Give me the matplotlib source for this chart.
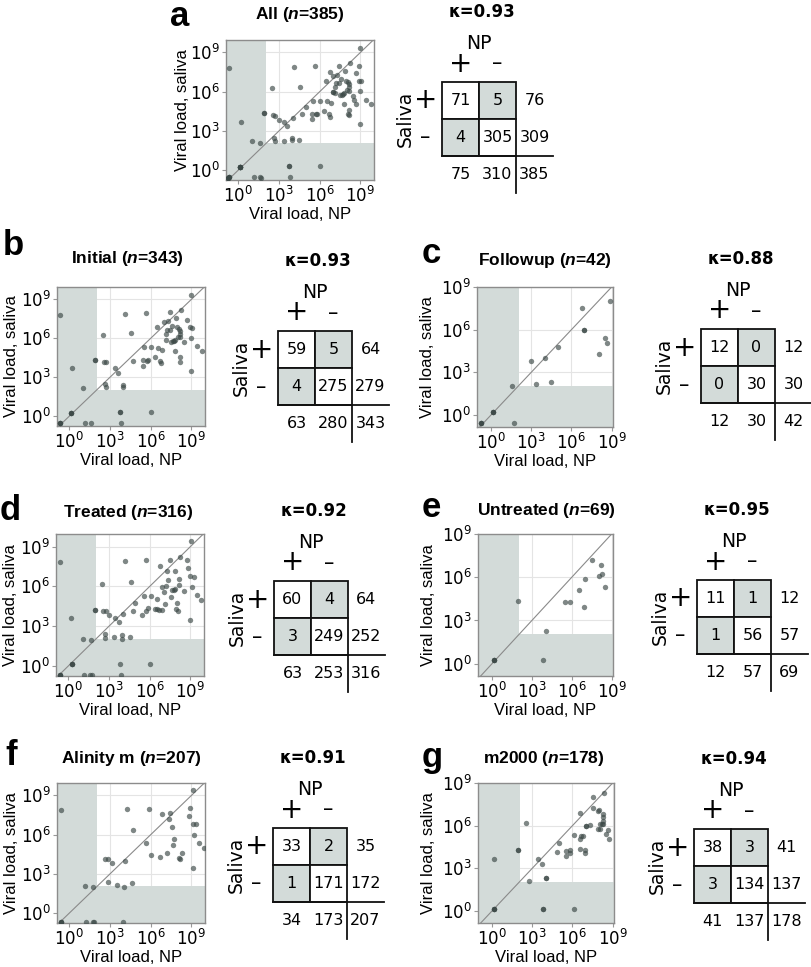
import numpy as np
import matplotlib
matplotlib.use('Agg')
import matplotlib.pyplot as plt
from matplotlib.patches import Rectangle
from matplotlib.ticker import FixedLocator, NullLocator, LogFormatterSciNotation

plt.rcParams['mathtext.fontset'] = 'custom'
plt.rcParams['mathtext.rm'] = 'DejaVu Sans'
plt.rcParams['mathtext.it'] = 'Liberation Sans:italic:bold'
plt.rcParams['mathtext.bf'] = 'DejaVu Sans:bold'

# log10 viral loads (NP on x, saliva on y)
initial_np = [-0.69, 0.2, 1.0, 1.9, 1.9, 2.46, 2.54, 2.7, 2.66, 2.7, 3.35, 3.6, 3.94, 3.94, 4.14, 4.58,
              4.73, 5.47, 5.47, 5.52, 5.67, 5.74, 5.8, 6.0, 6.35, 6.45, 6.55, 6.65, 6.75, 6.8, 6.95,
              7.1, 7.14, 7.2, 7.3, 7.39, 7.44, 7.5, 7.59, 7.64, 7.73, 7.76, 7.8, 7.88, 7.96, 8.0,
              8.08, 8.13, 8.15, 8.15, 8.18, 8.13, 8.23, 8.45, 8.67, 8.87, 8.94, 9.0, 9.06, 9.0,
              9.4, 9.8, 6.0, 3.77, 3.77, 0.15, 0.15, 0.15, -0.69, -0.69, -0.69, 1.13, 1.58, 3.84]
initial_saliva = [7.8, 3.7, 2.2, 4.36, 4.36, 6.26, 4.2, 4.15, 2.49, 2.23, 3.69, 3.36, 2.44, 2.28, 7.87, 6.38,
                  4.28, 3.9, 4.33, 5.3, 7.97, 4.28, 4.33, 5.3, 4.54, 6.85, 5.26, 4.28, 4.08, 5.1, 7.23,
                  5.9, 6.33, 6.67, 7.3, 8.0, 6.64, 5.74, 6.97, 5.77, 5.82, 5.05, 5.87, 7.56, 6.85, 6.13,
                  6.72, 6.59, 6.33, 6.08, 4.59, 4.2, 8.2, 5.69, 7.41, 6.85, 3.51, 6.03, 6.79, 9.33,
                  5.38, 5.05, 0.31, 0.31, 0.31, 0.28, 0.28, 0.28, -0.54, -0.54, -0.54, -0.54, -0.54, -0.54]

followup_np = [-0.75, -0.75, -0.75, 0.12, 0.12, 0.12, 1.7, 1.57, 3.0, 3.38, 4.0, 4.5, 4.97, 6.75,
               6.95, 6.95, 8.05, 8.5, 8.65, 8.87]
followup_saliva = [-0.59, -0.59, -0.59, 0.23, 0.23, 0.23, -0.59, 2.04, 3.8, 2.2, 4.0, 2.32, 4.81, 7.49,
                   5.99, 5.99, 4.27, 5.4, 5.07, 8.0]

treated_np = [-0.62, 0.2, 1.06, 1.65, 1.97, 1.97, 2.51, 2.59, 2.78, 2.73, 2.73, 3.03, 3.42, 3.72, 3.4,
              3.97, 3.97, 4.06, 4.19, 4.56, 4.63, 4.8, 4.95, 5.42, 5.59, 5.74, 5.74, 5.84, 6.08, 6.4,
              6.53, 6.53, 6.67, 6.77, 6.87, 6.92, 7.02, 7.12, 7.17, 7.27, 7.36, 7.46, 7.56, 7.66, 7.76,
              7.86, 7.9, 7.96, 8.05, 8.0, 8.13, 8.18, 8.25, 8.5, 8.74, 8.79, 8.94, 8.99, 9.24, 9.11,
              9.04, 9.48, 9.8, -0.62, -0.62, -0.62, 0.25, 0.25, 0.25, 1.18, 1.6, 1.77, 3.82, 3.89, 6.03]
treated_saliva = [7.83, 3.6, 2.04, 1.98, 4.26, 4.26, 6.21, 4.18, 4.13, 2.43, 2.09, 3.81, 3.6, 3.29, 2.17,
                  2.35, 2.04, 3.92, 7.91, 2.22, 6.34, 4.18, 4.78, 3.86, 5.3, 7.96, 4.13, 4.39, 5.3, 4.33,
                  5.04, 4.31, 4.26, 7.52, 4.26, 5.95, 5.56, 4.65, 6.0, 7.13, 6.48, 7.99, 5.17, 5.74, 5.74,
                  7.13, 5.82, 4.31, 4.13, 4.78, 6.08, 6.55, 8.25, 5.69, 7.99, 7.39, 3.47, 6.79, 6.74, 5.95,
                  9.4, 5.35, 4.99, -0.7, -0.7, -0.7, 0.16, 0.16, 0.16, -0.7, -0.7, -0.7, 0.16, -0.7, 0.16]

untreated_np = [0.12, 0.12, 0.12, 1.93, 4.03, 3.83, 5.5, 5.83, 6.58, 6.9, 7.0, 7.5, 8.03, 8.23, 8.28, 8.53]
untreated_saliva = [0.23, 0.23, 0.23, 4.32, 2.29, 0.23, 4.25, 4.25, 5.14, 3.97, 5.91, 7.2, 6.12, 6.82, 6.26, 5.33]

alinity_np = [-0.57, -0.59, -0.59, -0.59, 1.23, 1.72, 1.85, 3.97, 1.16, 1.75, 2.64, 2.83, 3.13, 2.83, 3.5,
              4.06, 4.11, 4.63, 4.26, 4.68, 5.62, 5.84, 5.99, 6.72, 6.82, 7.19, 7.34, 7.39, 7.56, 7.64,
              7.71, 8.08, 8.18, 8.3, 8.84, 8.92, 9.09, 9.09, 9.34, 9.19, 9.56, 9.93, 9.14]
alinity_saliva = [7.85, -0.68, -0.68, -0.68, -0.68, -0.68, -0.68, -0.68, 2.07, 1.99, 4.17, 4.12, 3.81, 2.41,
                  2.18, 2.02, 3.99, 2.28, 7.95, 6.38, 5.33, 8.0, 4.41, 4.28, 7.56, 4.57, 7.17, 7.66, 6.61,
                  5.2, 5.7, 4.25, 4.15, 4.59, 7.45, 8.06, 3.46, 6.82, 6.8, 6.01, 5.35, 5.01, 9.4]

m2000_np = [0.18, 0.18, 0.18, 0.18, 1.93, 1.93, 2.5, 2.78, 3.45, 3.75, 3.83, 3.83, 4.03, 4.03, 6.1, 4.83,
            5.03, 5.5, 5.55, 5.8, 5.85, 6.1, 6.53, 6.58, 6.53, 6.63, 6.8, 6.93, 6.95, 7.03, 7.03, 7.28,
            7.53, 7.53, 7.88, 7.95, 7.88, 8.05, 8.03, 8.25, 8.28, 8.28, 8.28, 8.2, 8.35, 8.5, 8.63, 8.75]
m2000_saliva = [0.14, 0.14, 0.14, 3.62, 4.29, 4.29, 6.21, 2.1, 3.62, 3.29, 0.14, 0.14, 2.31, 2.31, 0.14, 4.17,
                4.76, 4.24, 3.83, 4.29, 4.1, 5.33, 5.07, 6.9, 4.33, 5.24, 5.29, 4.31, 4.07, 5.98, 5.98, 6.05,
                8.05, 7.26, 7.0, 7.1, 5.74, 6.12, 5.76, 6.81, 6.62, 6.31, 6.14, 6.1, 8.29, 5.43, 5.67, 5.07]

# all samples = initial + followup
all_np = initial_np + followup_np
all_saliva = initial_saliva + followup_saliva

# 2x2 tables: [saliva+/NP+, saliva+/NP-, saliva-/NP+, saliva-/NP-]
tables = {
    'a': [71, 5, 4, 305], 'b': [59, 5, 4, 275], 'c': [12, 0, 0, 30], 'd': [60, 4, 3, 249],
    'e': [11, 1, 1, 56], 'f': [33, 2, 1, 171], 'g': [38, 3, 3, 134],
}
kappas = {'a': 0.93, 'b': 0.93, 'c': 0.88, 'd': 0.92, 'e': 0.95, 'f': 0.91, 'g': 0.94}
titles = {'a': 'All', 'b': 'Initial', 'c': 'Followup', 'd': 'Treated',
          'e': 'Untreated', 'f': 'Alinity m', 'g': 'm2000'}
n_values = {'a': 385, 'b': 343, 'c': 42, 'd': 316, 'e': 69, 'f': 207, 'g': 178}

W, H = 812, 967
SHADE = '#d3dbd9'
PT = '#3a4745'
THR = 10 ** 2.05

fig = plt.figure(figsize=(W / 100, H / 100), dpi=100)


def px_axes(l, t, r, b):
    return fig.add_axes([l / W, 1 - b / H, (r - l) / W, (b - t) / H])


def scatter_panel(box, xs, ys, xlim, ylim, ylab_x):
    ax = px_axes(*box)
    ax.set_xscale('log')
    ax.set_yscale('log')
    x0, x1 = 10 ** xlim[0], 10 ** xlim[1]
    y0, y1 = 10 ** ylim[0], 10 ** ylim[1]
    ax.fill_between([x0, THR], y0, y1, color=SHADE, lw=0, zorder=1)
    ax.fill_between([THR, x1], y0, THR, color=SHADE, lw=0, zorder=1)
    lo, hi = min(x0, y0) / 10, max(x1, y1) * 10
    ax.plot([lo, hi], [lo, hi], color='#8a8a8a', lw=0.8, zorder=2)
    ax.scatter(10 ** np.array(xs), 10 ** np.array(ys), s=15, color=PT, alpha=0.65,
               linewidths=0, zorder=3)
    ax.set_xlim(x0, x1)
    ax.set_ylim(y0, y1)
    ticks = [1, 1e3, 1e6, 1e9]
    for axis in (ax.xaxis, ax.yaxis):
        axis.set_major_locator(FixedLocator(ticks))
        axis.set_minor_locator(NullLocator())
        axis.set_major_formatter(LogFormatterSciNotation())
    ax.grid(True, color='#e4e4e4', lw=0.8)
    ax.set_axisbelow(True)
    ax.tick_params(labelsize=12, length=3, color='#999999', pad=1.5)
    for s in ax.spines.values():
        s.set_color('#8c8c8c')
        s.set_linewidth(1)
    ax.set_xlabel('Viral load, NP', fontfamily='Liberation Sans', fontsize=12)
    ax.set_ylabel('Viral load, saliva', fontfamily='Liberation Sans', fontsize=12)
    h = box[3] - box[1]
    w = box[2] - box[0]
    ax.xaxis.set_label_coords(0.5, -27 / h)
    ax.yaxis.set_label_coords(ylab_x / w, 0.5)
    return ax


def table_panel(x0, y0, cell, counts, kappa):
    xl, xr, yt, yb = -1.7, 3.3, -2.5, 3.3
    ax = px_axes(x0 + xl * cell, y0 + yt * cell, x0 + xr * cell, y0 + yb * cell)
    ax.set_xlim(xl, xr)
    ax.set_ylim(yb, yt)
    ax.axis('off')
    grid = np.array(counts).reshape(2, 2)
    fs = 11.5
    for i in range(2):
        for j in range(2):
            fc = 'white' if i == j else SHADE
            ax.add_patch(Rectangle((j, i), 1, 1, facecolor=fc, edgecolor='#111111', lw=1.3))
            ax.text(j + 0.5, i + 0.5, str(grid[i, j]), ha='center', va='center', fontsize=fs)
        ax.text(2.5, i + 0.5, str(grid[i].sum()), ha='center', va='center', fontsize=fs)
        ax.text(i + 0.5, 2.5, str(grid[:, i].sum()), ha='center', va='center', fontsize=fs)
    ax.text(2.5, 2.5, str(grid.sum()), ha='center', va='center', fontsize=fs)
    ax.plot([0, 3.0], [2, 2], color='#111111', lw=1.3)
    ax.plot([2, 2], [2, 3.0], color='#111111', lw=1.3)
    ax.text(1.0, -1.05, 'NP', ha='center', va='center', fontsize=13.5)
    ax.text(0.5, -0.5, '+', ha='center', va='center', fontsize=20)
    ax.text(1.5, -0.5, '–', ha='center', va='center', fontsize=15)
    ax.text(-0.45, 0.5, '+', ha='center', va='center', fontsize=20)
    ax.text(-0.45, 1.5, '–', ha='center', va='center', fontsize=15)
    ax.text(-1.0, 1.0, 'Saliva', ha='center', va='center', rotation=90, fontsize=13.5)
    ax.text(1.08, -1.9, 'κ=%.2f' % kappa, ha='center', va='center', fontsize=12,
            fontweight='bold')


def fig_text(x, y, s, **kw):
    fig.text(x / W, 1 - y / H, s, **kw)


LEFT_LIM = ((-0.9, 10.0), (-0.75, 9.95))
RIGHT_LIM = ((-1.05, 9.1), (-0.85, 9.0))

panels = [
    # key, scatter box, data, lims, ylabel x, table origin, title pos, letter pos
    ('a', (226, 40, 374, 180), all_np, all_saliva, LEFT_LIM, -36, (442, 82), (300, 14), (170, 26)),
    ('b', (57, 287, 205, 426), initial_np, initial_saliva, LEFT_LIM, -38, (278, 331), (127, 259), (3, 255)),
    ('c', (477, 287, 613, 427), followup_np, followup_saliva, RIGHT_LIM, -42, (701, 329), (545, 261), (422, 263)),
    ('d', (56, 534, 204, 676), treated_np, treated_saliva, LEFT_LIM, -38, (274, 581), (128, 512), (0, 520)),
    ('e', (478, 534, 613, 676), untreated_np, untreated_saliva, RIGHT_LIM, -42, (697, 580), (546, 510), (422, 517)),
    ('f', (57, 783, 205, 923), alinity_np, alinity_saliva, LEFT_LIM, -38, (273, 828), (131, 759), (5, 765)),
    ('g', (478, 783, 614, 923), m2000_np, m2000_saliva, RIGHT_LIM, -42, (694, 829), (544, 759), (422, 767)),
]

for key, box, xs, ys, lims, ylx, torg, tpos, lpos in panels:
    scatter_panel(box, xs, ys, lims[0], lims[1], ylx)
    table_panel(torg[0], torg[1], 37, tables[key], kappas[key])
    fig_text(tpos[0], tpos[1], '%s ($n$=%d)' % (titles[key], n_values[key]), ha='center', va='center',
             fontfamily='Liberation Sans', fontweight='bold', fontsize=12.5)
    fig_text(lpos[0], lpos[1], key, ha='left', va='baseline', fontfamily='Liberation Sans',
             fontweight='bold', fontsize=25)

fig.savefig('out.png', dpi=100)
